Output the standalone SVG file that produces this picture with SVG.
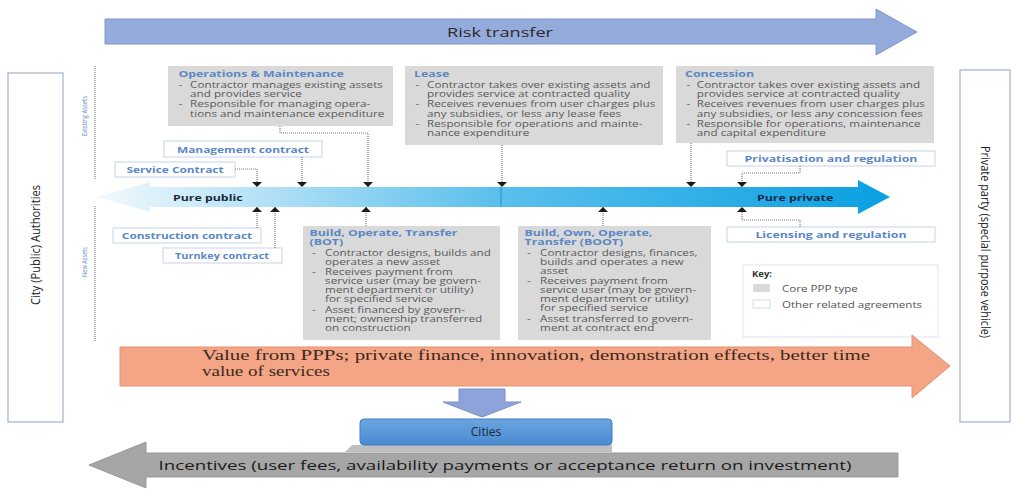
<svg xmlns="http://www.w3.org/2000/svg" width="1013" height="489" viewBox="0 0 1013 489">
<defs>
<linearGradient id="barg" gradientUnits="userSpaceOnUse" x1="97" y1="0" x2="889" y2="0">
<stop offset="0" stop-color="#f2f9fd"/>
<stop offset="0.5" stop-color="#5cc0ec"/>
<stop offset="1" stop-color="#0aa0e2"/>
</linearGradient>
<linearGradient id="cityg" x1="0" y1="0" x2="0" y2="1">
<stop offset="0" stop-color="#6aa6e0"/>
<stop offset="1" stop-color="#4a8ad0"/>
</linearGradient>
<marker id="ah" viewBox="0 0 5 10" refX="5" refY="5" markerWidth="5" markerHeight="10" orient="auto" markerUnits="userSpaceOnUse">
<path d="M0,0 L5,5 L0,10 z" fill="#1a1a1a"/>
</marker>
<style>
text{font-family:"Open Sans","Liberation Sans",sans-serif}
.serif{font-family:"Liberation Serif","DejaVu Serif",serif}
.core{fill:#d9d9d9}
.other{fill:#ffffff;stroke:#c8d4e6;stroke-width:1}
.ttl{font-size:9.5px;font-weight:bold;fill:#5b87c5}
.bt{font-size:9px;fill:#5a5a5a}
.lbl{font-size:9.5px;font-weight:bold;fill:#5b87c5;text-anchor:middle}
.side{fill:#ffffff;stroke:#8fa2bf;stroke-width:1}
.conn{fill:none;stroke:#7a7a7a;stroke-width:1.2;stroke-dasharray:1 1}
.asset{font-size:8px;fill:#5b87c5;text-anchor:middle}
.vline{stroke:#999;stroke-width:1.5;stroke-dasharray:1 1}
</style>
</defs>
<rect width="1013" height="489" fill="#ffffff"/>

<g id="risk-transfer">
<polygon points="105,19 876,19 876,9 917,32 876,55 876,44 105,44" fill="#94abdc" stroke="#7f97cc" stroke-width="1"/>
<text x="500" y="37" font-size="13.5" fill="#2a2a2a" text-anchor="middle" textLength="106" lengthAdjust="spacingAndGlyphs">Risk transfer</text>
</g>

<g id="city-authorities">
<rect class="side" x="8" y="73" width="55" height="349"/>
<text transform="translate(40,245) rotate(-90)" font-size="12.5" fill="#222" text-anchor="middle" textLength="120" lengthAdjust="spacingAndGlyphs">City (Public) Authorities</text>
</g>

<g id="private-party">
<rect class="side" x="960" y="70" width="50" height="352"/>
<text transform="translate(981,242) rotate(90)" font-size="12.5" fill="#222" text-anchor="middle" textLength="192" lengthAdjust="spacingAndGlyphs">Private party (special purpose vehicle)</text>
</g>

<g id="asset-labels">
<line class="vline" x1="95" y1="66" x2="95" y2="180"/>
<line class="vline" x1="95" y1="206" x2="95" y2="342"/>
<text class="asset" transform="translate(87,116) rotate(-90)" textLength="40" lengthAdjust="spacingAndGlyphs">Existing Assets</text>
<text class="asset" transform="translate(87,262) rotate(-90)" textLength="30" lengthAdjust="spacingAndGlyphs">New Assets</text>
</g>

<g id="spectrum-bar">
<polygon points="97,197 150,182 150,187 858,187 858,180 890,197 858,214 858,207 150,207 150,212" fill="url(#barg)"/>
<line x1="501" y1="187" x2="501" y2="207" stroke="#2a8fc4" stroke-width="1"/>
<text transform="matrix(1.3 0 0 1 -51.9 0)" x="173" y="201" font-size="9.5" font-weight="bold" fill="#1a2a3a">Pure public</text>
<text transform="matrix(1.3 0 0 1 -227.1 0)" x="757" y="201" font-size="9.5" font-weight="bold" fill="#0d2a4a">Pure private</text>
</g>

<g id="om">
<rect class="core" x="168" y="66" width="225" height="60"/>
<g transform="matrix(1.3 0 0 1 -50.4 0)">
<text class="ttl" x="176" y="77">Operations &amp; Maintenance</text>
<text class="bt" x="176" y="88">-</text><text class="bt" x="185" y="88">Contractor manages existing assets</text>
<text class="bt" x="185" y="97.5">and provides service</text>
<text class="bt" x="176" y="107.5">-</text><text class="bt" x="185" y="107.5">Responsible for managing opera-</text>
<text class="bt" x="185" y="117">tions and maintenance expenditure</text>
</g>
</g>

<g id="lease">
<rect class="core" x="405" y="66" width="258" height="79"/>
<g transform="matrix(1.3 0 0 1 -121.5 0)">
<text class="ttl" x="412" y="77">Lease</text>
<text class="bt" x="413" y="88">-</text><text class="bt" x="422" y="88">Contractor takes over existing assets and</text>
<text class="bt" x="422" y="97.5">provides service at contracted quality</text>
<text class="bt" x="413" y="107.5">-</text><text class="bt" x="422" y="107.5">Receives revenues from user charges plus</text>
<text class="bt" x="422" y="117">any subsidies, or less any lease fees</text>
<text class="bt" x="413" y="127">-</text><text class="bt" x="422" y="127">Responsible for operations and mainte-</text>
<text class="bt" x="422" y="136.5">nance expenditure</text>
</g>
</g>

<g id="concession">
<rect class="core" x="676" y="66" width="258" height="77"/>
<g transform="matrix(1.3 0 0 1 -202.8 0)">
<text class="ttl" x="683" y="77">Concession</text>
<text class="bt" x="684" y="88">-</text><text class="bt" x="692" y="88">Contractor takes over existing assets and</text>
<text class="bt" x="692" y="97.5">provides service at contracted quality</text>
<text class="bt" x="684" y="107.5">-</text><text class="bt" x="692" y="107.5">Receives revenues from user charges plus</text>
<text class="bt" x="692" y="117">any subsidies, or less any concession fees</text>
<text class="bt" x="684" y="127">-</text><text class="bt" x="692" y="127">Responsible for operations, maintenance</text>
<text class="bt" x="692" y="136.5">and capital expenditure</text>
</g>
</g>

<g id="management-contract">
<rect class="other" x="164" y="141" width="158" height="16"/>
<text class="lbl" transform="matrix(1.25 0 0 1 -60.75 0)" x="243" y="153">Management contract</text>
</g>
<g id="service-contract">
<rect class="other" x="115" y="162" width="120" height="15"/>
<text class="lbl" transform="matrix(1.25 0 0 1 -43.75 0)" x="175" y="173">Service Contract</text>
</g>
<g id="privatisation">
<rect class="other" x="727" y="151" width="208" height="15"/>
<text class="lbl" transform="matrix(1.3 0 0 1 -249.3 0)" x="831" y="162">Privatisation and regulation</text>
</g>
<g id="construction-contract">
<rect class="other" x="113" y="228" width="148" height="15"/>
<text class="lbl" transform="matrix(1.25 0 0 1 -46.75 0)" x="187" y="239">Construction contract</text>
</g>
<g id="turnkey-contract">
<rect class="other" x="163" y="248" width="119" height="15"/>
<text class="lbl" transform="matrix(1.15 0 0 1 -33.3 0)" x="222" y="259">Turnkey contract</text>
</g>
<g id="licensing">
<rect class="other" x="727" y="227" width="208" height="15"/>
<text class="lbl" transform="matrix(1.3 0 0 1 -249.3 0)" x="831" y="238">Licensing and regulation</text>
</g>

<g id="bot">
<rect class="core" x="303" y="226" width="197" height="114"/>
<g transform="matrix(1.3 0 0 1 -90.9 0)">
<text class="ttl" x="308" y="236">Build, Operate, Transfer</text>
<text class="ttl" x="308" y="245.5">(BOT)</text>
<text class="bt" x="310" y="256">-</text><text class="bt" x="320" y="256">Contractor designs, builds and</text>
<text class="bt" x="320" y="265">operates a new asset</text>
<text class="bt" x="310" y="275.5">-</text><text class="bt" x="320" y="275.5">Receives payment from</text>
<text class="bt" x="320" y="284.5">service user (may be govern-</text>
<text class="bt" x="320" y="293.5">ment department or utility)</text>
<text class="bt" x="320" y="302.5">for specified service</text>
<text class="bt" x="310" y="313">-</text><text class="bt" x="320" y="313">Asset financed by govern-</text>
<text class="bt" x="320" y="322">ment; ownership transferred</text>
<text class="bt" x="320" y="331">on construction</text>
</g>
</g>

<g id="boot">
<rect class="core" x="518" y="226" width="193" height="114"/>
<g transform="matrix(1.3 0 0 1 -155.4 0)">
<text class="ttl" x="523" y="236">Build, Own, Operate,</text>
<text class="ttl" x="523" y="245.5">Transfer (BOOT)</text>
<text class="bt" x="525" y="256">-</text><text class="bt" x="535" y="256">Contractor designs, finances,</text>
<text class="bt" x="535" y="265">builds and operates a new</text>
<text class="bt" x="535" y="274">asset</text>
<text class="bt" x="525" y="284.5">-</text><text class="bt" x="535" y="284.5">Receives payment from</text>
<text class="bt" x="535" y="293.5">service user (may be govern-</text>
<text class="bt" x="535" y="302.5">ment department or utility)</text>
<text class="bt" x="535" y="311.5">for specified service</text>
<text class="bt" x="525" y="322">-</text><text class="bt" x="535" y="322">Asset transferred to govern-</text>
<text class="bt" x="535" y="331">ment at contract end</text>
</g>
</g>

<g id="key">
<rect x="743" y="265" width="195" height="72" fill="#ffffff" stroke="#dde3ec" stroke-width="1"/>
<text x="752" y="277" font-size="9.5" font-weight="bold" fill="#333">Key:</text>
<rect x="753" y="284" width="17" height="8" fill="#d9d9d9"/>
<rect x="753" y="300" width="17" height="8" fill="#ffffff" stroke="#dddddd" stroke-width="1"/>
<g transform="matrix(1.22 0 0 1 -172.04 0)">
<text x="782" y="292" font-size="9.5" fill="#555">Core PPP type</text>
<text x="782" y="308" font-size="9.5" fill="#555">Other related agreements</text>
</g>
</g>

<g id="connectors">
<path class="conn" d="M235,169 H257 V187" marker-end="url(#ah)"/>
<path class="conn" d="M302,157 V187" marker-end="url(#ah)"/>
<path class="conn" d="M280,126 V133 H368 V187" marker-end="url(#ah)"/>
<path class="conn" d="M502,145 V187" marker-end="url(#ah)"/>
<path class="conn" d="M691,143 V187" marker-end="url(#ah)"/>
<path class="conn" d="M800,166 V173 H742 V187" marker-end="url(#ah)"/>
<path class="conn" d="M257,228 V207" marker-end="url(#ah)"/>
<path class="conn" d="M275,248 V207" marker-end="url(#ah)"/>
<path class="conn" d="M366,226 V207" marker-end="url(#ah)"/>
<path class="conn" d="M603,226 V207" marker-end="url(#ah)"/>
<path class="conn" d="M800,227 V220 H742 V207" marker-end="url(#ah)"/>
</g>

<g id="value-arrow">
<polygon points="120,347 912,347 912,335 950,366 912,398 912,386 120,386" fill="#f4a585" stroke="#e39270" stroke-width="1"/>
<text class="serif" x="202" y="360" font-size="14.5" fill="#3a2a1e" textLength="668" lengthAdjust="spacingAndGlyphs">Value from PPPs; private finance, innovation, demonstration effects, better time</text>
<text class="serif" x="202" y="376" font-size="14.5" fill="#3a2a1e" textLength="128" lengthAdjust="spacingAndGlyphs">value of services</text>
</g>

<g id="down-arrow">
<polygon points="459,389 505,389 505,402 521,402 482,417 443,402 459,402" fill="#8ea3d9" stroke="#7a90c8" stroke-width="1"/>
</g>

<g id="cities">
<polygon points="352,445 612,445 612,452 345,452" fill="#bfbfbf"/>
<rect x="360" y="419" width="252" height="26" rx="4" fill="url(#cityg)" stroke="#3f7fc4" stroke-width="1"/>
<text x="486" y="436" font-size="12" fill="#1d2a3a" text-anchor="middle">Cities</text>
</g>

<g id="incentives-arrow">
<polygon points="898,453 898,477 146,477 146,488 89,465 146,442 146,453" fill="#a6a6a6" stroke="#999" stroke-width="1"/>
<text x="505" y="470" font-size="13.5" fill="#1a1a1a" text-anchor="middle" textLength="693" lengthAdjust="spacingAndGlyphs">Incentives (user fees, availability payments or acceptance return on investment)</text>
</g>
</svg>
